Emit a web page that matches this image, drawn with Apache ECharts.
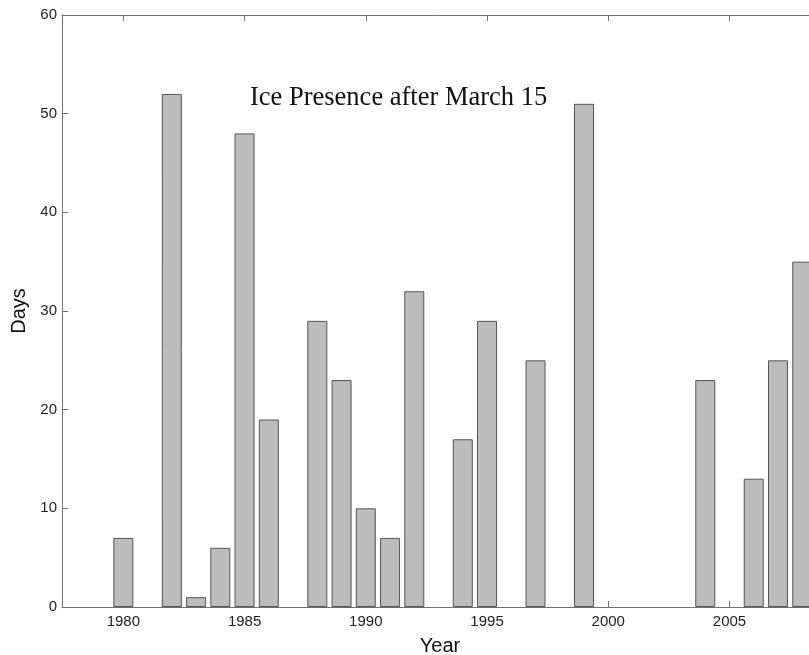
<!DOCTYPE html>
<html><head><meta charset="utf-8">
<script src="https://cdn.jsdelivr.net/npm/echarts@6/dist/echarts.min.js"></script>
<style>html,body{margin:0;padding:0;background:#fff}#c{width:809px;height:655px}</style>
</head><body><div id="c"></div>
<script>
const years = [1980,1982,1983,1984,1985,1986,1988,1989,1990,1991,1992,1994,1995,1997,1999,2004,2006,2007,2008];
const days  = [7,52,1,6,48,19,29,23,10,7,32,17,29,25,51,23,13,25,35];
const xTicks = [1980,1985,1990,1995,2000,2005];
const chart = echarts.init(document.getElementById('c'));
const axisColor = '#707070';
const lblFont = {color:'#222', fontSize:15, fontFamily:'Liberation Sans, Arial, sans-serif'};
chart.setOption({
  animation:false,
  title:{text:'Ice Presence after March 15', left:245, top:80,
    textStyle:{fontFamily:'Liberation Serif, Times New Roman, serif', fontWeight:'normal', fontSize:26.5, color:'#111'}},
  grid:{left:62, right:-9, top:15, bottom:48, containLabel:false, outerBoundsMode:'none'},
  xAxis:[{
    type:'value', min:1977.47, max:2008.65, position:'bottom',
    name:'Year', nameLocation:'middle', nameGap:29,
    nameTextStyle:{fontSize:20, color:'#111', fontFamily:'Liberation Sans, Arial, sans-serif'},
    axisLine:{show:true, lineStyle:{color:axisColor, width:1}},
    axisTick:{show:true, inside:true, length:6, customValues:xTicks, lineStyle:{color:axisColor}},
    axisLabel:Object.assign({customValues:xTicks, margin:7, formatter:v=>String(v)}, lblFont),
    splitLine:{show:false}
  },{
    type:'value', min:1977.47, max:2008.65, position:'top',
    axisLine:{show:true, lineStyle:{color:axisColor, width:1}},
    axisTick:{show:true, inside:true, length:6, customValues:xTicks, lineStyle:{color:axisColor}},
    axisLabel:{show:false}, splitLine:{show:false}
  }],
  yAxis:{
    type:'value', min:0, max:60, interval:10,
    name:'Days', nameLocation:'middle', nameGap:31, nameRotate:90,
    nameTextStyle:{fontSize:20, color:'#111', fontFamily:'Liberation Sans, Arial, sans-serif'},
    axisLine:{show:true, lineStyle:{color:axisColor, width:1}},
    axisTick:{show:true, inside:true, length:6, lineStyle:{color:axisColor}},
    axisLabel:Object.assign({margin:5, formatter:v=>String(v)}, lblFont),
    splitLine:{show:false}
  },
  series:[{
    type:'bar', xAxisIndex:0, barWidth:20,
    data: years.map((y,i)=>[y, days[i]]),
    itemStyle:{color:'#bcbcbc', borderColor:'#555', borderWidth:1}
  }]
});
</script></body></html>
